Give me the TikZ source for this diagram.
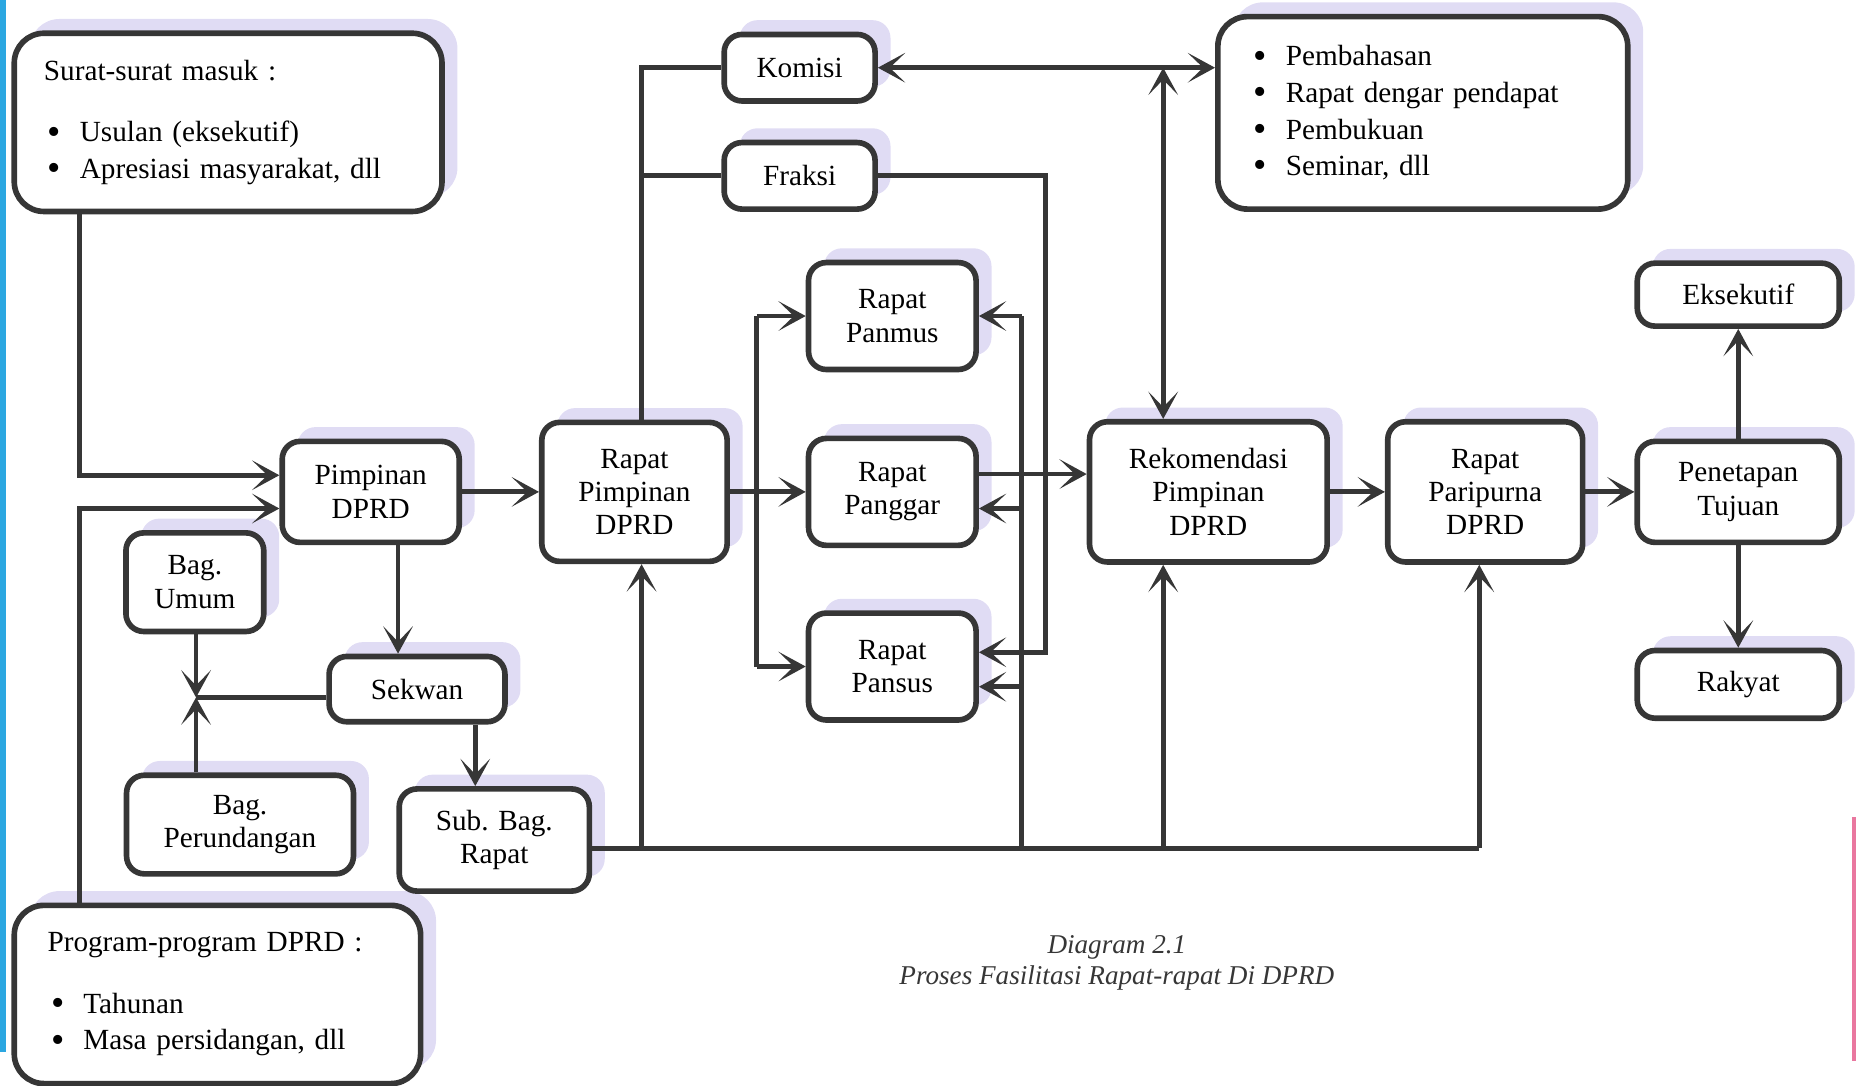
\documentclass[tikz,border=0pt]{standalone}
\usepackage{fontspec}
\setmainfont{Liberation Serif}
\usepackage{tikz}
\usetikzlibrary{arrows.meta, positioning, shadows}
\definecolor{linegray}{HTML}{363636}
\definecolor{lavender}{HTML}{E0DCF4}
\definecolor{scanblue}{HTML}{2BA7E1}
\definecolor{scanpink}{HTML}{E9779F}
\newcommand{\dotitem}{\hspace*{0.06cm}\raisebox{-0.08em}{\scalebox{1.3}{\textbullet}}\hspace{0.32cm}}

\begin{document}
\begin{tikzpicture}[node distance=3cm, on grid, >={Stealth[length=4.6mm, width=5mm, inset=2.6mm]}]
    \tikzstyle{box}=[shape=rectangle, draw=linegray, line width=2.7pt, rounded corners=0.3cm, fill=white, align=center, inner sep=2pt, font=\fontsize{14}{16}\selectfont, drop shadow={shadow xshift=0.26cm, shadow yshift=0.24cm, fill=lavender, opacity=1}]
    \tikzstyle{bigbox}=[box, rounded corners=0.5cm, align=left, font=\fontsize{14}{17.5}\selectfont]
    \tikzstyle{link}=[draw=linegray, line width=2.3pt]
    \tikzstyle{caption}=[font=\fontsize{13}{15}\selectfont\itshape, text=linegray]

    \useasboundingbox (0,0) rectangle (31.36,18.28);
    \fill[scanblue] (0,18.28) rectangle (0.1,0.58);
    \fill[scanpink] (31.18,4.52) rectangle (31.25,0.42);

    % main row
    \node[box, minimum width=2.98cm, minimum height=1.70cm] (pim) at (6.24,10.0) {Pimpinan\\DPRD};
    \node[box, right=4.44cm of pim, minimum width=3.12cm, minimum height=2.34cm] (rpim) {Rapat\\Pimpinan\\DPRD};
    \node[box, right=4.34cm of rpim, minimum width=2.82cm, minimum height=1.80cm] (panggar) {Rapat\\Panggar};
    \node[box, above=2.96cm of panggar, minimum width=2.82cm, minimum height=1.80cm] (panmus) {Rapat\\Panmus};
    \node[box, below=2.94cm of panggar, minimum width=2.82cm, minimum height=1.80cm] (pansus) {Rapat\\Pansus};
    \node[box, right=5.32cm of panggar, minimum width=4.0cm, minimum height=2.36cm] (rekom) {Rekomendasi\\Pimpinan\\DPRD};
    \node[box, right=4.66cm of rekom, minimum width=3.28cm, minimum height=2.36cm] (paripurna) {Rapat\\Paripurna\\DPRD};
    \node[box, right=4.26cm of paripurna, minimum width=3.4cm, minimum height=1.70cm] (penetapan) {Penetapan\\Tujuan};
    \node[box, above=3.32cm of penetapan, minimum width=3.4cm, minimum height=1.06cm] (eksekutif) {Eksekutif};
    \node[box, below=3.24cm of penetapan, minimum width=3.4cm, minimum height=1.14cm] (rakyat) {Rakyat};

    % top
    \node[box, minimum width=2.54cm, minimum height=1.12cm] (komisi) at (13.46,17.14) {Komisi};
    \node[box, below=1.82cm of komisi, minimum width=2.54cm, minimum height=1.12cm] (fraksi) {Fraksi};
    \node[bigbox, text width=5.82cm, inner xsep=0.54cm, minimum height=3.24cm] (kegiatan) at (23.95,16.38) {\dotitem Pembahasan\\\dotitem Rapat dengar pendapat\\\dotitem Pembukuan\\\dotitem Seminar, dll};

    % left
    \node[bigbox, text width=6.2cm, inner xsep=0.5cm, minimum height=3.0cm] (surat) at (3.84,16.22) {Surat-surat masuk :\\[0.42cm]\dotitem Usulan (eksekutif)\\\dotitem Apresiasi masyarakat, dll};
    \node[bigbox, text width=5.72cm, inner xsep=0.56cm, minimum height=3.0cm] (program) at (3.66,1.54) {Program-program DPRD :\\[0.42cm]\dotitem Tahunan\\\dotitem Masa persidangan, dll};
    \node[box, minimum width=2.32cm, minimum height=1.66cm] (umum) at (3.28,8.48) {Bag.\\Umum};
    \node[box, minimum width=2.96cm, minimum height=1.10cm] (sekwan) at (7.02,6.68) {Sekwan};
    \node[box, minimum width=3.82cm, minimum height=1.66cm] (perund) at (4.04,4.40) {Bag.\\Perundangan};
    \node[box, minimum width=3.2cm, minimum height=1.72cm] (subbag) at (8.32,4.14) {Sub. Bag.\\Rapat};

    \node[caption] (diagno) at (18.8,2.34) {Diagram 2.1};
    \node[caption, below=0.52cm of diagno] (diagtitle) {Proses Fasilitasi Rapat-rapat Di DPRD};

    \coordinate (lx) at (1.34,0);
    \coordinate (rx) at (10.8,0);
    \coordinate (sx) at (12.74,0);
    \coordinate (fx) at (17.6,0);
    \coordinate (b1) at (10.8,4.0);
    \coordinate (b2) at (17.2,4.0);
    \coordinate (b3) at (19.58,4.0);
    \coordinate (bus) at (24.9,4.0);
    \coordinate (jn) at (3.30,6.54);
    \coordinate (pu) at ([yshift=0.24cm]pansus.east);

    % inputs
    \draw[link,->] (surat.south -| lx) |- ([yshift=0.28cm]pim.west);
    \draw[link,->] (program.north -| lx) |- ([yshift=-0.28cm]pim.west);
    \draw[link,->] (pim.east) -- (rpim.west);
    \draw[link,->] ([xshift=0.46cm]pim.south) -- ([xshift=0.46cm]pim.south |- sekwan.north);
    \draw[link] ([yshift=-0.14cm]sekwan.west) -- (jn);
    \draw[link,->] (umum.south -| jn) -- (jn);
    \draw[link,->] (perund.north -| jn) -- (jn);
    \draw[link,->] ([xshift=0.98cm]sekwan.south) -- ([xshift=0.98cm]sekwan.south |- subbag.north);

    % bus from Sub. Bag. Rapat
    \draw[link] (subbag.east |- bus) -- (bus);
    \draw[link,->] (bus) -- (bus |- paripurna.south);
    \draw[link,->] (b1) -- (b1 |- rpim.south);
    \draw[link,->] (b3) -- (b3 |- rekom.south);
    \draw[link] (b2) -- (b2 |- panmus.east);
    \draw[link,->] (b2 |- panmus.east) -- (panmus.east);
    \draw[link,->] ([yshift=-0.28cm]panggar.east -| b2) -- ([yshift=-0.28cm]panggar.east);
    \draw[link,->] ([yshift=-0.34cm]pansus.east -| b2) -- ([yshift=-0.34cm]pansus.east);

    % komisi, fraksi
    \draw[link] (rx |- rpim.north) |- (komisi.west);
    \draw[link] (fraksi.west) -- (fraksi.west -| rx);
    \draw[link,<->] (komisi.east) -- (komisi.east -| kegiatan.west);
    \draw[link,<->] (komisi.east -| b3) -- (b3 |- rekom.north);
    \draw[link,->] (fraksi.east) -| (fx |- pu) -- (pu);

    % rapat
    \draw[link,->] (rpim.east) -- (panggar.west);
    \draw[link] (sx |- pansus.west) -- (sx |- panmus.west);
    \draw[link,->] (sx |- panmus.west) -- (panmus.west);
    \draw[link,->] (sx |- pansus.west) -- (pansus.west);
    \draw[link,->] ([yshift=0.3cm]panggar.east) -- ([yshift=0.3cm]panggar.east -| rekom.west);
    \draw[link,->] (rekom.east) -- (paripurna.west);
    \draw[link,->] (paripurna.east) -- (penetapan.west);
    \draw[link,->] (penetapan.north) -- (eksekutif.south);
    \draw[link,->] (penetapan.south) -- (rakyat.north);
\end{tikzpicture}
\end{document}
